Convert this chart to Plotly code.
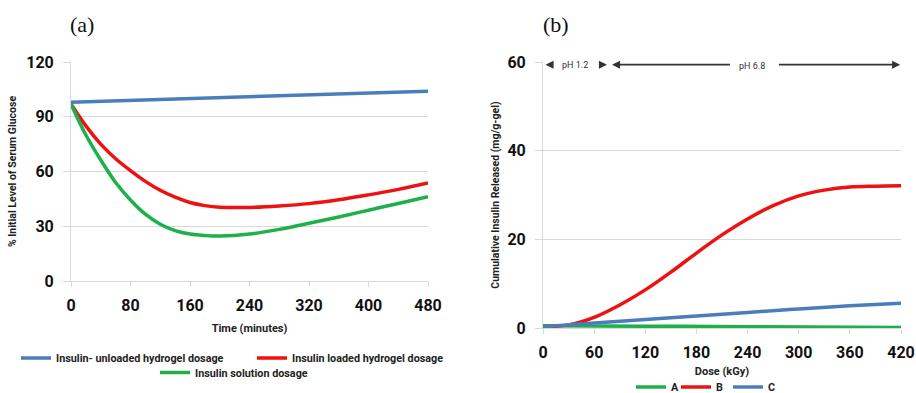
import plotly.graph_objects as go

# ---------- Panel (a) data ----------
time_blue = [0, 480]
glucose_unloaded = [98, 104]

time_red = [0, 20, 40, 60, 80, 100, 120, 140, 160, 180, 200, 240, 280, 320, 360, 400, 440, 480]
glucose_loaded = [97, 85, 75, 67, 60.5, 54.6, 49.7, 45.9, 43, 41.3, 40.4, 40.3, 41.1, 42.4, 44.5, 47.2, 50.2, 53.7]

time_green = [0, 20, 40, 60, 80, 100, 120, 140, 160, 180, 200, 240, 280, 320, 360, 400, 440, 480]
glucose_solution = [97, 80, 66.3, 54, 44.4, 36.6, 31.1, 27.6, 25.7, 24.9, 24.6, 25.7, 28.3, 31.6, 35.1, 38.8, 42.5, 46.2]

# ---------- Panel (b) data ----------
dose_A = [0, 120, 240, 420]
release_A = [0.5, 0.4, 0.3, 0.1]

dose_B = [0, 30, 60, 90, 120, 150, 180, 210, 240, 270, 300, 330, 360, 390, 420]
release_B = [0.3, 0.7, 2.4, 5.2, 8.6, 12.6, 16.9, 21.0, 24.6, 27.6, 29.8, 31.1, 31.8, 32.0, 32.1]

dose_C = [0, 60, 120, 180, 240, 300, 360, 420]
release_C = [0.3, 1.1, 1.9, 2.7, 3.5, 4.3, 5.0, 5.6]

a_xticks = [0, 80, 160, 240, 320, 400, 480]
a_yticks = [0, 30, 60, 90, 120]
b_xticks = [0, 60, 120, 180, 240, 300, 360, 420]
b_yticks = [0, 20, 40, 60]

BLUE = "#4a7ebb"
RED = "#ee1111"
GREEN = "#1db04b"
GRID = "#d9d9d9"
W, H = 916, 393


def px(x):
    return x / W


def py(y):
    return 1 - y / H


fig = go.Figure()
LW = 3.5
fig.add_trace(go.Scatter(x=time_blue, y=glucose_unloaded, mode="lines",
                         line=dict(color=BLUE, width=LW),
                         name="Insulin- unloaded hydrogel dosage",
                         xaxis="x", yaxis="y", legend="legend"))
fig.add_trace(go.Scatter(x=time_red, y=glucose_loaded, mode="lines",
                         line=dict(color=RED, width=LW, shape="spline", smoothing=1.0),
                         name="Insulin loaded hydrogel dosage",
                         xaxis="x", yaxis="y", legend="legend2"))
fig.add_trace(go.Scatter(x=time_green, y=glucose_solution, mode="lines",
                         line=dict(color=GREEN, width=LW, shape="spline", smoothing=1.0),
                         name="Insulin solution dosage",
                         xaxis="x", yaxis="y", legend="legend3"))

fig.add_trace(go.Scatter(x=dose_A, y=release_A, mode="lines",
                         line=dict(color=GREEN, width=LW, shape="spline"),
                         name="A", xaxis="x2", yaxis="y2", legend="legend4"))
fig.add_trace(go.Scatter(x=dose_B, y=release_B, mode="lines",
                         line=dict(color=RED, width=LW, shape="spline", smoothing=1.0),
                         name="B", xaxis="x2", yaxis="y2", legend="legend5"))
fig.add_trace(go.Scatter(x=dose_C, y=release_C, mode="lines",
                         line=dict(color=BLUE, width=LW, shape="spline"),
                         name="C", xaxis="x2", yaxis="y2", legend="legend6"))

TICKFONT = dict(family="Roboto", size=16, color="#111111", weight="bold")
TITLEFONT = dict(family="Roboto", size=11, color="#222222", weight="bold")

common_x = dict(showline=True, linecolor=GRID, linewidth=1, ticks="outside",
                ticklen=5, tickcolor=GRID, showgrid=False, zeroline=False,
                tickfont=TICKFONT, automargin=False, fixedrange=True,
                ticklabelstandoff=5)
common_y = dict(showline=True, linecolor=GRID, linewidth=1, ticks="outside",
                ticklen=7, tickcolor=GRID, showgrid=True, gridcolor=GRID,
                gridwidth=1, zeroline=False, tickfont=TICKFONT,
                automargin=False, ticklabelstandoff=6, fixedrange=True)

LEG = dict(bgcolor="rgba(0,0,0,0)", font=dict(family="Roboto", size=10.8,
           color="#222222", weight="bold"), xanchor="left", yanchor="middle",
           itemwidth=30, tracegroupgap=0)

fig.update_layout(
    width=W, height=H,
    margin=dict(l=0, r=0, t=0, b=0, autoexpand=False),
    paper_bgcolor="white", plot_bgcolor="white",
    xaxis=dict(common_x, domain=[px(71), px(428)], range=[0, 480],
               tickvals=a_xticks, anchor="y",
               title=dict(text="Time (minutes)", font=TITLEFONT, standoff=10)),
    yaxis=dict(common_y, domain=[py(281), py(62)], range=[0, 120],
               tickvals=a_yticks, anchor="x",
               title=dict(text="% Initial Level of Serum Glucose", font=dict(TITLEFONT, size=10.5), standoff=7)),
    xaxis2=dict(common_x, domain=[px(543), px(901)], range=[0, 420],
                tickvals=b_xticks, anchor="y2",
                title=dict(text="Dose (kGy)", font=TITLEFONT, standoff=6)),
    yaxis2=dict(common_y, domain=[py(328), py(62)], range=[0, 60],
                tickvals=b_yticks, anchor="x2",
                title=dict(text="Cumulative Insulin Released (mg/g-gel)", font=dict(TITLEFONT, size=10.5), standoff=5)),
    legend=dict(LEG, x=px(16), y=py(358)),
    legend2=dict(LEG, x=px(252), y=py(358)),
    legend3=dict(LEG, x=px(155), y=py(372.5)),
    legend4=dict(LEG, x=px(631), y=py(387)),
    legend5=dict(LEG, x=px(676), y=py(387)),
    legend6=dict(LEG, x=px(728), y=py(387)),
    showlegend=True,
)

# panel labels
fig.add_annotation(text="(a)", xref="paper", yref="paper", x=px(82), y=py(25),
                   xanchor="center", yanchor="middle", showarrow=False,
                   font=dict(family="Liberation Serif", size=22, color="#111111"))
fig.add_annotation(text="(b)", xref="paper", yref="paper", x=px(556), y=py(25),
                   xanchor="center", yanchor="middle", showarrow=False,
                   font=dict(family="Liberation Serif", size=22, color="#111111"))

# pH annotations in panel (b)
AC = "#333333"
ph_y = 59.4
arrows = [(11, 3), (67, 75), (221, 81), (275, 419)]
for tail, head in arrows:
    fig.add_annotation(x=head, y=ph_y, ax=tail, ay=ph_y, xref="x2", yref="y2",
                       axref="x2", ayref="y2", showarrow=True, arrowhead=2,
                       arrowsize=1, arrowwidth=1.6, arrowcolor=AC, text="")
fig.add_annotation(text="pH 1.2", x=37.5, y=ph_y, xref="x2", yref="y2", showarrow=False,
                   font=dict(family="Roboto", size=9, color="#333333"))
fig.add_annotation(text="pH 6.8", x=245.5, y=ph_y - 0.3, xref="x2", yref="y2", showarrow=False,
                   font=dict(family="Roboto", size=9, color="#333333"))

fig.write_html("out.html",
               config={"displayModeBar": False},
               post_script="document.body.style.margin='0px';document.body.style.overflow='hidden';")
